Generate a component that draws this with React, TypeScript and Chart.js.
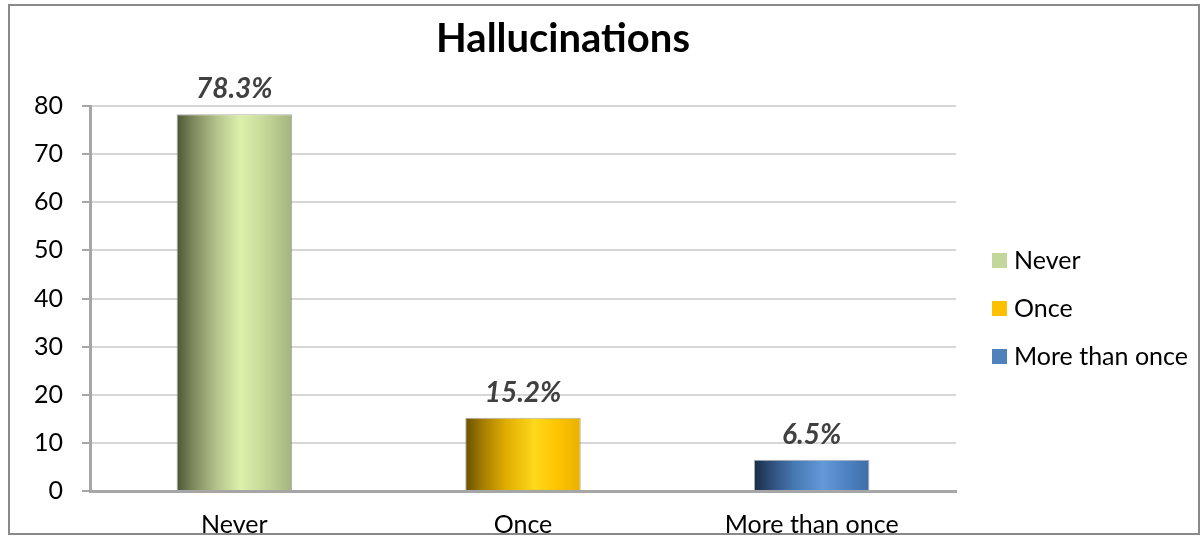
import React, { useEffect, useRef } from "react";
import { Chart, registerables } from "chart.js";

Chart.register(...registerables);

const categories = ["Never", "Once", "More than once"];
const values = [78.3, 15.2, 6.5];
const valueLabels = ["78.3%", "15.2%", "6.5%"];
const yTicks = [0, 10, 20, 30, 40, 50, 60, 70, 80];
const chartTitle = "Hallucinations";
const legendColors = ["#c3d69b", "#ffc000", "#4f81bd"];
const gradientStops: [number, string][][] = [
  [[0, "#4e5637"], [0.15, "#7f8b5d"], [0.35, "#b4c48c"], [0.55, "#dcefab"], [0.75, "#c7da9a"], [1, "#a5b47d"]],
  [[0, "#6a5000"], [0.15, "#a47c00"], [0.35, "#e0ac00"], [0.6, "#ffd81c"], [0.8, "#ffc400"], [1, "#e8b000"]],
  [[0, "#1b2b45"], [0.15, "#2f4f7a"], [0.35, "#4679b4"], [0.6, "#6299d8"], [0.8, "#4d83c3"], [1, "#3f6ea8"]],
];

const FONT = "Lato, 'Open Sans', sans-serif";

export default function App() {
  const ref = useRef<HTMLCanvasElement | null>(null);
  useEffect(() => {
    if (!ref.current) return;
    const decor = {
      id: "decor",
      afterDatasetsDraw(chart: any) {
        const ctx = chart.ctx;
        const meta = chart.getDatasetMeta(0);
        ctx.save();
        ctx.fillStyle = "#404040";
        ctx.font = `italic bold 28px ${FONT}`;
        ctx.textAlign = "center";
        ctx.textBaseline = "middle";
        meta.data.forEach((el: any, i: number) => {
          ctx.fillText(valueLabels[i], el.x, el.y - 25);
        });
        ctx.restore();
      },
      afterDraw(chart: any) {
        const ctx = chart.ctx;
        ctx.save();
        ctx.fillStyle = "#000";
        ctx.font = `bold 40px ${FONT}`;
        ctx.textAlign = "center";
        ctx.textBaseline = "middle";
        ctx.fillText(chartTitle, 553, 33);
        ctx.font = `25px ${FONT}`;
        ctx.textAlign = "left";
        const lx = chart.chartArea.right + 36;
        categories.forEach((c, i) => {
          const cy = 254 + i * 48;
          ctx.fillStyle = legendColors[i];
          ctx.fillRect(lx, cy - 7, 15, 15);
          ctx.fillStyle = "#000";
          ctx.fillText(c, lx + 22, cy + 1);
        });
        ctx.restore();
      },
    };
    const chart = new Chart(ref.current, {
      type: "bar",
      data: {
        labels: categories,
        datasets: [
          {
            data: values,
            backgroundColor: (c: any) => {
              const ch = c.chart;
              const xs = ch.scales?.x;
              if (!xs || !ch.chartArea) return legendColors[c.dataIndex];
              const cx = xs.getPixelForValue(c.dataIndex);
              const half = (xs.width / categories.length) * 0.4 / 2;
              const g = ch.ctx.createLinearGradient(cx - half, 0, cx + half, 0);
              gradientStops[c.dataIndex].forEach(([o, col]) => g.addColorStop(o, col));
              return g;
            },
            borderColor: "rgba(140,140,140,0.7)",
            borderWidth: 1,
            categoryPercentage: 1,
            barPercentage: 0.4,
          },
        ],
      },
      options: {
        animation: false,
        responsive: false,
        devicePixelRatio: 1,
        layout: { padding: { top: 100, right: 242, left: 0, bottom: 0 } },
        plugins: { legend: { display: false }, title: { display: false }, tooltip: { enabled: false } },
        scales: {
          x: {
            grid: { display: false, drawTicks: false },
            border: { display: true, color: "#a6a6a6", width: 3 },
            ticks: { color: "#000", font: { family: FONT, size: 25 }, padding: 19 },
            afterFit: (s: any) => { s.height = 42; },
          },
          y: {
            min: 0,
            max: 80,
            afterBuildTicks: (s: any) => { s.ticks = yTicks.map((v) => ({ value: v })); },
            grid: { color: "#d6d6d6", lineWidth: 2, tickColor: "#a6a6a6", tickLength: 8, tickWidth: 2 },
            border: { display: true, color: "#a6a6a6", width: 3 },
            ticks: { color: "#000", font: { family: FONT, size: 25 }, padding: 19 },
            afterFit: (s: any) => { s.width = 80; },
          },
        },
      },
      plugins: [decor],
    });
    return () => chart.destroy();
  }, []);
  return (
    <div
      style={{
        position: "absolute",
        left: 8,
        top: 4,
        width: 1192,
        height: 531,
        boxSizing: "border-box",
        border: "2px solid #898989",
        background: "#fff",
      }}
    >
      <canvas ref={ref} width={1188} height={527} style={{ display: "block" }} />
    </div>
  );
}
